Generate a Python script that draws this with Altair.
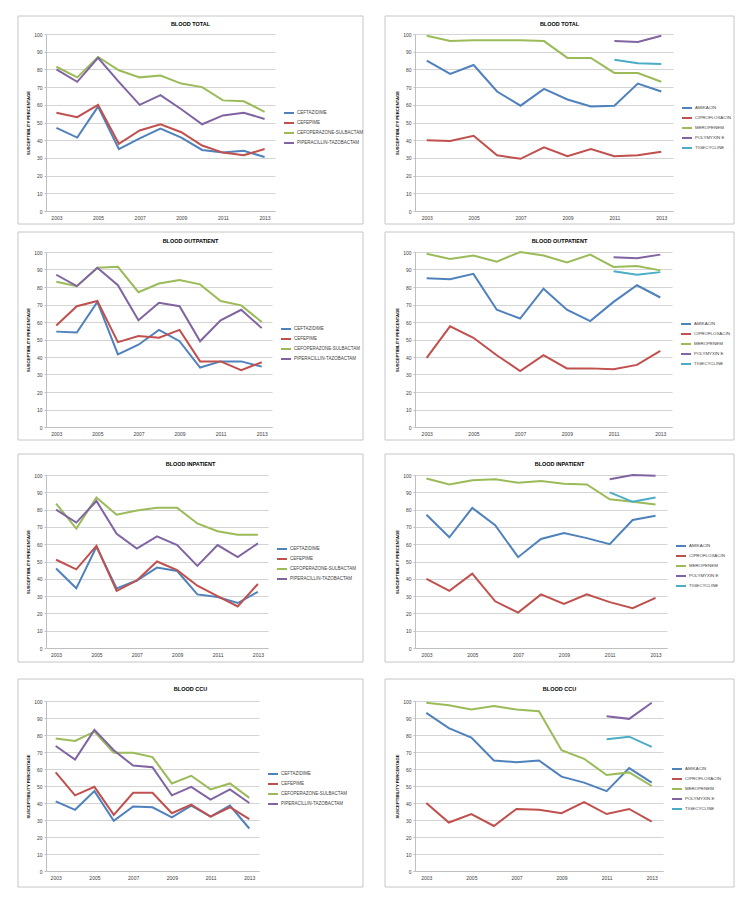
import altair as alt
import pandas as pd

years = [2003, 2004, 2005, 2006, 2007, 2008, 2009, 2010, 2011, 2012, 2013]
recent_years = [2011, 2012, 2013]
tick_years = [2003, 2005, 2007, 2009, 2011, 2013]
y_ticks = [0, 10, 20, 30, 40, 50, 60, 70, 80, 90, 100]

left_drugs = ["CEFTAZIDIME", "CEFEPIME", "CEFOPERAZONE-SULBACTAM", "PIPERACILLIN-TAZOBACTAM"]
right_drugs = ["AMIKACIN", "CIPROFLOXACIN", "MEROPENEM", "POLYMYXIN E", "TIGECYCLINE"]
left_colors = ["#4F81BD", "#C0504D", "#9BBB59", "#8064A2"]
right_colors = ["#4F81BD", "#C0504D", "#9BBB59", "#8064A2", "#4BACC6"]

# ---- BLOOD TOTAL ----
total_ceftazidime = [47, 41.5, 59, 35, 41, 46.5, 41.5, 34.5, 33, 34, 30.5]
total_cefepime = [55.5, 53, 60, 38, 45.5, 49, 44.5, 37, 33, 31.5, 35]
total_cefoperazone = [81.5, 75.5, 87, 79.5, 75.5, 76.5, 72, 70, 62.5, 62, 56]
total_piperacillin = [80, 73, 86.5, 73, 60, 65.5, 57.5, 49, 54, 55.5, 52]
total_amikacin = [85, 77.5, 82.5, 67.5, 59.5, 69, 63, 59, 59.5, 72, 67.5]
total_ciprofloxacin = [40, 39.5, 42.5, 31.5, 29.5, 36, 31, 35, 31, 31.5, 33.5]
total_meropenem = [99, 96, 96.5, 96.5, 96.5, 96, 86.5, 86.5, 78, 78, 73]
total_polymyxin = [96, 95.5, 99]
total_tigecycline = [85.5, 83.5, 83]

# ---- BLOOD OUTPATIENT ----
out_ceftazidime = [54.5, 54, 71.5, 41.5, 47, 55.5, 49, 34, 37.5, 37.5, 34.5]
out_cefepime = [58, 69, 72, 48.5, 52, 51, 55.5, 37.5, 37.5, 32.5, 37]
out_cefoperazone = [83, 80.5, 91, 91.5, 77, 82, 84, 81.5, 72, 69.5, 60]
out_piperacillin = [87, 80.5, 91, 81, 61, 71, 69, 49, 61, 67, 56.5]
out_amikacin = [85, 84.5, 87.5, 67, 62, 79, 67, 60.5, 71.5, 81, 74]
out_ciprofloxacin = [39.5, 57.5, 51, 41, 32, 41, 33.5, 33.5, 33, 35.5, 43.5]
out_meropenem = [99, 96, 98, 94.5, 100, 98, 94, 98.5, 91.5, 92, 89.5]
out_polymyxin = [97, 96.5, 98.5]
out_tigecycline = [89, 87, 88.5]

# ---- BLOOD INPATIENT ----
in_ceftazidime = [46, 34.5, 58.5, 34.5, 39, 46.5, 44.5, 31, 29.5, 26, 32.5]
in_cefepime = [51, 45.5, 59, 33, 39, 50, 45, 36, 30, 24, 37]
in_cefoperazone = [83.5, 69, 87, 77, 79.5, 81, 81, 72, 67.5, 65.5, 65.5]
in_piperacillin = [80, 72.5, 85, 66, 57.5, 64.5, 59.5, 47.5, 59.5, 52.5, 60.5]
in_amikacin = [77, 64, 81, 71, 52.5, 63, 66.5, 63.5, 60, 74, 76.5]
in_ciprofloxacin = [40, 33, 43, 27, 20.5, 31, 25.5, 31, 26.5, 23, 29]
in_meropenem = [98, 94.5, 97, 97.5, 95.5, 96.5, 95, 94.5, 86, 84.5, 83]
in_polymyxin = [97.5, 100, 99.5]
in_tigecycline = [90, 84.5, 87]

# ---- BLOOD CCU ----
ccu_ceftazidime = [41, 36, 47, 29.5, 38, 37.5, 31.5, 38.5, 32, 38.5, 25]
ccu_cefepime = [58, 44.5, 49.5, 33, 46, 46, 34, 39, 32, 37.5, 30.5]
ccu_cefoperazone = [78, 76.5, 82, 69.5, 69.5, 67, 51.5, 56, 48, 51.5, 43]
ccu_piperacillin = [73.5, 65.5, 83, 71, 62, 61, 44.5, 49.5, 42, 48, 40]
ccu_amikacin = [93, 84, 78.5, 65, 64, 65, 55.5, 52, 47, 60.5, 52]
ccu_ciprofloxacin = [40, 28.5, 33.5, 26.5, 36.5, 36, 34, 40.5, 33.5, 36.5, 29]
ccu_meropenem = [99, 97.5, 95, 97, 95, 94, 71, 66, 56.5, 58, 50]
ccu_polymyxin = [91, 89.5, 99]
ccu_tigecycline = [77.5, 79, 73]

FONT = "Liberation Sans"
LEFT_X0 = 45      # plot-area left edge of the left column (page px)
LEFT_X1 = 362     # border right edge of the left column
RIGHT_X0 = 412    # plot-area left edge of the right column
RIGHT_X1 = 731    # border right edge of the right column


def panel(title, drugs, colors, series, side, width, height, top_ext, bottom_ext, title_dy, legend_y):
    rows = []
    for drug, vals in zip(drugs, series):
        yrs = years if len(vals) == len(years) else recent_years
        for yr, v in zip(yrs, vals):
            rows.append({"year": yr, "drug": drug, "value": v})
    df = pd.DataFrame(rows)

    if side == "left":
        bx1, bx2 = 17 - LEFT_X0, LEFT_X1 - LEFT_X0
        lab_size = 4.5
    else:
        bx1, bx2 = 382 - RIGHT_X0, RIGHT_X1 - RIGHT_X0
        lab_size = 4.4
    lab_limit = bx2 - (width + 8 + 10 + 2) - 1
    by1, by2 = -top_ext, height + bottom_ext

    lines = alt.Chart(df).mark_line(strokeWidth=2).encode(
        x=alt.X("year:O",
                scale=alt.Scale(type="point", padding=0.5, domain=years),
                axis=alt.Axis(values=tick_years, title=None, labelAngle=0, grid=False,
                              ticks=False, labelPadding=4)),
        y=alt.Y("value:Q",
                scale=alt.Scale(domain=[0, 100], nice=False),
                axis=alt.Axis(values=y_ticks, title="SUSCEPTIBILITY  PERCENTAGE",
                              grid=True, tickSize=2, labelPadding=2, titlePadding=3)),
        color=alt.Color("drug:N",
                        scale=alt.Scale(domain=drugs, range=colors),
                        legend=alt.Legend(title=None, orient="none",
                                          legendX=width + 8, legendY=legend_y,
                                          labelFontSize=lab_size, labelLimit=lab_limit)),
    )

    frame = alt.Chart(pd.DataFrame({"k": [0]})).mark_rect(
        filled=False, stroke="#C6C6C6", strokeWidth=1
    ).encode(x=alt.value(bx1), x2=alt.value(bx2), y=alt.value(by1), y2=alt.value(by2))

    head = alt.Chart(pd.DataFrame({"t": [title]})).mark_text(
        font=FONT, fontSize=5.5, fontWeight="bold", align="center", baseline="middle",
        color="#000000"
    ).encode(x=alt.value((bx1 + bx2) / 2), y=alt.value(title_dy), text="t:N")

    return alt.layer(frame, lines, head).properties(width=width, height=height)


p1 = panel("BLOOD TOTAL", left_drugs, left_colors,
           [total_ceftazidime, total_cefepime, total_cefoperazone, total_piperacillin],
           "left", 229, 177, 18, 13, -10, 73)
p2 = panel("BLOOD TOTAL", right_drugs, right_colors,
           [total_amikacin, total_ciprofloxacin, total_meropenem, total_polymyxin, total_tigecycline],
           "right", 258, 177, 18, 13, -10, 68)
p3 = panel("BLOOD OUTPATIENT", left_drugs, left_colors,
           [out_ceftazidime, out_cefepime, out_cefoperazone, out_piperacillin],
           "left", 226, 175, 20, 13, -11, 71)
p4 = panel("BLOOD OUTPATIENT", right_drugs, right_colors,
           [out_amikacin, out_ciprofloxacin, out_meropenem, out_polymyxin, out_tigecycline],
           "right", 257, 175, 20, 13, -11, 66)
p5 = panel("BLOOD INPATIENT", left_drugs, left_colors,
           [in_ceftazidime, in_cefepime, in_cefoperazone, in_piperacillin],
           "left", 222, 173, 21, 14, -11, 68)
p6 = panel("BLOOD INPATIENT", right_drugs, right_colors,
           [in_amikacin, in_ciprofloxacin, in_meropenem, in_polymyxin, in_tigecycline],
           "right", 252, 173, 21, 14, -11, 65)
p7 = panel("BLOOD CCU", left_drugs, left_colors,
           [ccu_ceftazidime, ccu_cefepime, ccu_cefoperazone, ccu_piperacillin],
           "left", 213, 170, 22, 16, -12, 67)
p8 = panel("BLOOD CCU", right_drugs, right_colors,
           [ccu_amikacin, ccu_ciprofloxacin, ccu_meropenem, ccu_polymyxin, ccu_tigecycline],
           "right", 248, 170, 22, 16, -12, 62)


def indep(c):
    return c.resolve_scale(color="independent").resolve_legend(color="independent")


row1 = indep(alt.hconcat(p1, p2, spacing=20))
row2 = indep(alt.hconcat(p3, p4, spacing=20))
row3 = indep(alt.hconcat(p5, p6, spacing=20))
row4 = indep(alt.hconcat(p7, p8, spacing=20))

top = indep(alt.vconcat(row1, row2, spacing=6))
bottom = indep(alt.vconcat(row3, row4, spacing=15))

chart = indep(alt.vconcat(top, bottom, spacing=12)).properties(
    padding={"left": 9, "top": 7, "right": 2, "bottom": 2},
    background="#FFFFFF",
).configure_view(
    stroke=None
).configure_axis(
    labelFont=FONT, labelFontSize=5, labelColor="#404040",
    titleFont=FONT, titleFontSize=4.2, titleFontWeight="bold", titleColor="#000000",
    domainColor="#BFBFBF", tickColor="#BFBFBF", gridColor="#D4D4D4", gridWidth=1.2,
).configure_legend(
    labelFont=FONT, labelColor="#404040",
    symbolType="stroke", symbolStrokeWidth=2, symbolSize=100, rowPadding=0,
    labelOffset=2,
)

chart.save("out.html", embed_options={"renderer": "svg", "actions": False})
